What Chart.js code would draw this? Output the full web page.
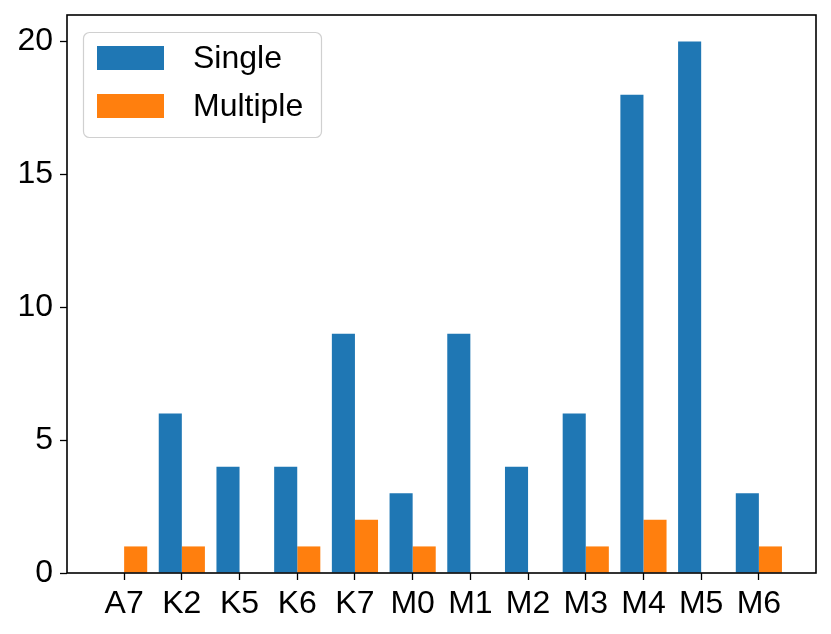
<!DOCTYPE html>
<html>
<head>
<meta charset="utf-8">
<script src="https://cdn.jsdelivr.net/npm/chart.js@4"></script>
<style>
  html, body { margin: 0; padding: 0; background: #fff; }
  #wrap { width: 831px; height: 634px; }
</style>
</head>
<body>
<div id="wrap"><canvas id="bars"></canvas></div>
<script>
// categories and counts
const categories = ['A7', 'K2', 'K5', 'K6', 'K7', 'M0', 'M1', 'M2', 'M3', 'M4', 'M5', 'M6'];
const singleCounts = [0, 6, 4, 4, 9, 3, 9, 4, 6, 18, 20, 3];
const multipleCounts = [1, 1, 0, 1, 2, 1, 0, 0, 1, 2, 0, 1];
const yTicks = [0, 5, 10, 15, 20];

const FONT = '"Liberation Sans", Arial, Helvetica, sans-serif';
const FONT_SIZE = 32;

// matplotlib-like frame around the plot
const framePlugin = {
    id: 'frame',
    afterDatasetsDraw(chart) {
        const a = chart.chartArea, ctx = chart.ctx;
        ctx.save();
        ctx.strokeStyle = '#000';
        ctx.lineWidth = 1.6;
        ctx.strokeRect(a.left, a.top, a.right - a.left, a.bottom - a.top);
        ctx.restore();
    }
};

// legend box drawn inside the plot, upper left
const boxLegend = {
    id: 'boxLegend',
    afterDraw(chart) {
        const a = chart.chartArea, ctx = chart.ctx;
        const x = a.left + 16, y = a.top + 17, w = 238, h = 105;
        ctx.save();
        ctx.beginPath();
        ctx.roundRect(x + 0.5, y + 0.5, w, h, 6);
        ctx.fillStyle = 'rgba(255,255,255,0.8)';
        ctx.fill();
        ctx.strokeStyle = '#d0d0d0';
        ctx.lineWidth = 1.2;
        ctx.stroke();
        ctx.font = FONT_SIZE + 'px ' + FONT;
        ctx.textBaseline = 'middle';
        chart.data.datasets.forEach((ds, i) => {
            const rowY = y + 14 + i * 48;
            ctx.fillStyle = ds.backgroundColor;
            ctx.fillRect(x + 14, rowY, 67, 24);
            ctx.fillStyle = '#000';
            ctx.fillText(ds.label, x + 110, rowY + 13);
        });
        ctx.restore();
    }
};

new Chart(document.getElementById('bars'), {
    type: 'bar',
    data: {
        datasets: [
            {
                label: 'Single',
                data: singleCounts.map((v, i) => ({ x: i, y: v })),
                backgroundColor: '#1f77b4',
                borderWidth: 0
            },
            {
                label: 'Multiple',
                data: multipleCounts.map((v, i) => ({ x: i, y: v })),
                backgroundColor: '#ff7f0e',
                borderWidth: 0
            }
        ]
    },
    options: {
        responsive: true,
        maintainAspectRatio: false,
        animation: false,
        datasets: { bar: { categoryPercentage: 0.8, barPercentage: 1.0, grouped: true } },
        layout: { padding: { top: 15, right: 15, left: 0, bottom: 0 } },
        plugins: { legend: { display: false }, tooltip: { enabled: false } },
        scales: {
            x: {
                type: 'linear',
                min: -0.99,
                max: 11.99,
                offset: false,
                afterBuildTicks: (scale) => { scale.ticks = categories.map((c, i) => ({ value: i })); },
                afterFit: (scale) => { scale.height = 61; scale.paddingLeft = 0; scale.paddingRight = 0; },
                grid: { display: true, offset: false, drawOnChartArea: false, drawTicks: true, tickLength: 7, tickColor: '#000', tickWidth: 1.3 },
                border: { display: false },
                ticks: {
                    autoSkip: false, maxRotation: 0, padding: 5, color: '#000',
                    font: { family: FONT, size: FONT_SIZE },
                    callback: (v) => categories[v]
                }
            },
            y: {
                min: 0,
                max: 21,
                afterBuildTicks: (scale) => { scale.ticks = yTicks.map(v => ({ value: v })); },
                afterFit: (scale) => { scale.width = 67; scale.paddingTop = 0; scale.paddingBottom = 0; },
                grid: { display: true, drawOnChartArea: false, drawTicks: true, tickLength: 7, tickColor: '#000', tickWidth: 1.3 },
                border: { display: false },
                ticks: {
                    padding: 7, color: '#000',
                    font: { family: FONT, size: FONT_SIZE }
                }
            }
        }
    },
    plugins: [framePlugin, boxLegend]
});
</script>
</body>
</html>
